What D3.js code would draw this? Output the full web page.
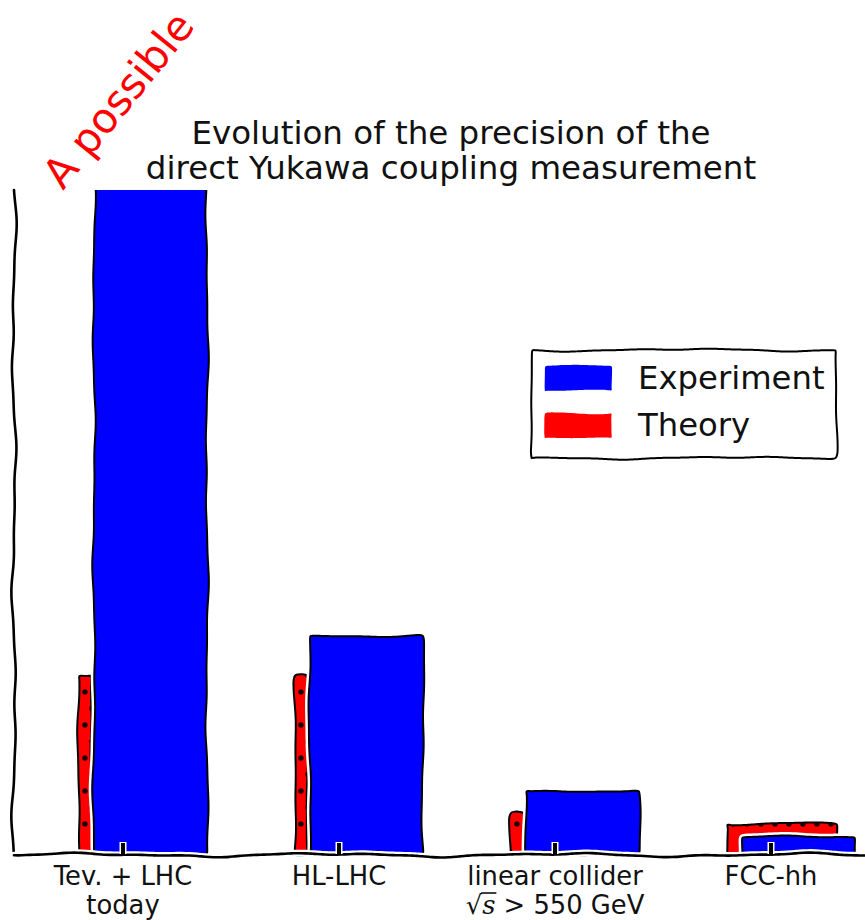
<!DOCTYPE html>
<html>
<head>
<meta charset="utf-8">
<script src="https://cdn.jsdelivr.net/npm/d3@7"></script>
<style>
  html, body { margin: 0; padding: 0; background: #fff; }
  svg { display: block; }
  text { font-family: "DejaVu Sans", sans-serif; }
</style>
</head>
<body>
<svg id="chart" width="865" height="920"></svg>
<script>
// ---------------- data ----------------
const categories = ["Tev. + LHC", "HL-LHC", "linear collider", "FCC-hh"];
const categorySubLabels = ["today", "", "√s > 550 GeV", ""];
const experimentValues = [40, 9.9, 2.9, 0.8];
const theoryValues = [8.1, 8.1, 1.9, 1.4];
const seriesNames = ["Experiment", "Theory"];
const titleLines = ["Evolution of the precision of the", "direct Yukawa coupling measurement"];
const stampText = "A possible";
const yDomainMax = 30;

// ---------------- style ----------------
const W = 865, H = 920;
const plot = { left: 14, top: 190, bottom: 855, right: 879 };
const BLUE = "#0000ff", RED = "#ff0000";
const theoryWidthFrac = [0.06, 0.06, 0.06, 0.51];
const tickFont = 25.8;

const svg = d3.select("#chart");

const x = d3.scaleBand().domain(categories).range([plot.left + 1, plot.right]).paddingInner(0).paddingOuter(0);
const y = d3.scaleLinear().domain([0, yDomainMax]).range([plot.bottom, plot.top]);
const bw = x.bandwidth();
const center = c => x(c) + bw / 2;

// deterministic xkcd-like wobble
function wobble(points, closed, seed, amp = 1.6, step = 3) {
  const pts = closed ? points.concat([points[0]]) : points.slice();
  const out = [];
  let s = 0;
  const p1 = seed * 1.37 + 0.4, p2 = seed * 2.91 + 1.1, p3 = seed * 0.73 + 2.3;
  for (let i = 0; i < pts.length - 1; i++) {
    const [x0, y0] = pts[i], [x1, y1] = pts[i + 1];
    const len = Math.hypot(x1 - x0, y1 - y0);
    const n = Math.max(1, Math.ceil(len / step));
    const nx = -(y1 - y0) / len, ny = (x1 - x0) / len;
    for (let k = 0; k < n; k++) {
      const t = k / n;
      const ss = s + t * len;
      const endFade = Math.min(1, Math.min(t * len, (1 - t) * len) / 6 + 0.25);
      const off = amp * endFade * (0.7 * Math.sin(ss / 38 + p1) + 0.35 * Math.sin(ss / 17 + p2) + 0.2 * Math.sin(ss / 9 + p3));
      out.push([x0 + (x1 - x0) * t + nx * off, y0 + (y1 - y0) * t + ny * off]);
    }
    s += len;
  }
  if (!closed) out.push(pts[pts.length - 1]);
  return out;
}
const line = d3.line().curve(d3.curveBasis);
function pathOf(points, closed) { return line(points) + (closed ? "Z" : ""); }

function rectPts(x0, y0, x1, y1) { return [[x0, y1], [x0, y0], [x1, y0], [x1, y1]]; }

// defs: clip path for plot
const defs = svg.append("defs");
defs.append("clipPath").attr("id", "plotClip")
  .append("rect").attr("x", 0).attr("y", plot.top).attr("width", W).attr("height", plot.bottom - plot.top + 6);

// ---------------- title ----------------
const title = svg.append("text").attr("text-anchor", "middle").attr("font-size", 32.5).attr("fill", "#111");
titleLines.forEach((d, i) => title.append("tspan").attr("x", 451).attr("y", 144 + i * 35).text(d));

// ---------------- bars ----------------
const gBars = svg.append("g").attr("clip-path", "url(#plotClip)");

function drawShape(g, pts, fill, seed, strokeW = 2) {
  const w = wobble(pts, true, seed, 1.5);
  const d = pathOf(w, true);
  g.append("path").attr("d", d).attr("fill", "none").attr("stroke", "#fff").attr("stroke-width", 7).attr("stroke-linejoin", "round");
  g.append("path").attr("d", d).attr("fill", fill).attr("stroke", "#000").attr("stroke-width", strokeW).attr("stroke-linejoin", "round");
  return d;
}

categories.forEach((c, i) => {
  const cx = center(c);
  // theory bar
  const tx0 = cx - 0.204 * bw, tx1 = tx0 + theoryWidthFrac[i] * bw;
  const ty = y(theoryValues[i]);
  const g = gBars.append("g");
  const dT = drawShape(g, rectPts(tx0, ty, tx1, plot.bottom), RED, i * 3 + 1);
  // hatch dots
  const cid = "tclip" + i;
  defs.append("clipPath").attr("id", cid).append("path").attr("d", dT);
  const dots = g.append("g").attr("clip-path", `url(#${cid})`);
  for (let col = 0; tx0 + 6 + col * 7 < tx1 + 4; col++) {
    const dx = tx0 + 6 + col * 7;
    const yStart = plot.bottom - 31 - (col % 2) * 16.5;
    for (let yy = yStart; yy > ty - 4; yy -= 33) {
      dots.append("circle").attr("cx", dx).attr("cy", yy).attr("r", 2.7).attr("fill", "#1a0000");
    }
  }
  // experiment bar
  const ex0 = cx - 0.134 * bw, ex1 = ex0 + 0.523 * bw;
  const ey = Math.max(y(experimentValues[i]), plot.top - 40);
  drawShape(gBars.append("g"), rectPts(ex0, ey, ex1, plot.bottom), BLUE, i * 3 + 2);
});

// ---------------- axes ----------------
const gAxis = svg.append("g");
function wobLine(pts, seed, amp) {
  const d = pathOf(wobble(pts, false, seed, amp, 4), false);
  gAxis.append("path").attr("d", d).attr("fill", "none").attr("stroke", "#fff").attr("stroke-width", 7).attr("stroke-linecap", "round");
  gAxis.append("path").attr("d", d).attr("fill", "none").attr("stroke", "#000").attr("stroke-width", 2.6).attr("stroke-linecap", "round");
}
wobLine([[plot.left, plot.top], [plot.left, plot.bottom]], 7, 2.2);
wobLine([[plot.left, plot.bottom], [W + 10, plot.bottom]], 11, 2.0);

const xAxis = d3.axisBottom(x).tickSizeInner(-12).tickSizeOuter(0).tickPadding(0).tickFormat(() => "");
const ax = svg.append("g").attr("transform", `translate(0,${plot.bottom})`).call(xAxis);
ax.select(".domain").remove();
ax.selectAll(".tick line").each(function () {
  const sel = d3.select(this);
  const parent = d3.select(this.parentNode);
  parent.insert("line", "line").attr("y1", -1).attr("y2", -13).attr("stroke", "#fff").attr("stroke-width", 7);
  sel.attr("stroke", "#000").attr("stroke-width", 4).attr("y1", -1).attr("y2", -12);
});
ax.selectAll(".tick text").remove();
ax.selectAll(".tick").each(function (c, i) {
  const t = d3.select(this).append("text").attr("text-anchor", "middle").attr("font-size", tickFont).attr("fill", "#111");
  t.append("tspan").attr("x", 0).attr("y", 30).text(c);
  const sub = categorySubLabels[i];
  if (sub) {
    if (sub.startsWith("√s")) {
      t.append("tspan").attr("x", 0).attr("y", 59).text("√");
      t.append("tspan").attr("font-family", "DejaVu Serif").attr("font-style", "italic").text("s");
      t.append("tspan").text(sub.slice(2));
      const node = t.node();
      const k = c.length;
      const r = node.getExtentOfChar(k);
      const e = node.getExtentOfChar(k + 1);
      d3.select(this).append("line")
        .attr("x1", r.x + r.width - 1).attr("x2", e.x + e.width + 1)
        .attr("y1", r.y + 3).attr("y2", r.y + 3)
        .attr("stroke", "#111").attr("stroke-width", 1.6);
    } else {
      t.append("tspan").attr("x", 0).attr("y", 59).text(sub);
    }
  }
});

// ---------------- legend ----------------
const leg = svg.append("g");
const lb = { x0: 532, y0: 350, x1: 836, y1: 458 };
const dLeg = pathOf(wobble(rectPts(lb.x0, lb.y0, lb.x1, lb.y1), true, 21, 1.4), true);
leg.append("path").attr("d", dLeg).attr("fill", "#fff").attr("stroke", "#fff").attr("stroke-width", 7);
leg.append("path").attr("d", dLeg).attr("fill", "#fff").attr("stroke", "#000").attr("stroke-width", 2);
const legColors = [BLUE, RED];
seriesNames.forEach((name, i) => {
  const yy = 366 + i * 47;
  leg.append("path").attr("d", pathOf(wobble(rectPts(545, yy, 612, yy + 25), true, 30 + i, 1.2), true))
    .attr("fill", legColors[i]).attr("stroke", "none");
  leg.append("text").attr("x", 638).attr("y", yy + 23).attr("font-size", 32.3).attr("fill", "#111").text(name);
});

// ---------------- stamp ----------------
svg.append("text").attr("transform", "translate(63,191) rotate(-51)")
  .attr("font-size", 41.5).attr("fill", RED).text(stampText);
</script>
</body>
</html>
